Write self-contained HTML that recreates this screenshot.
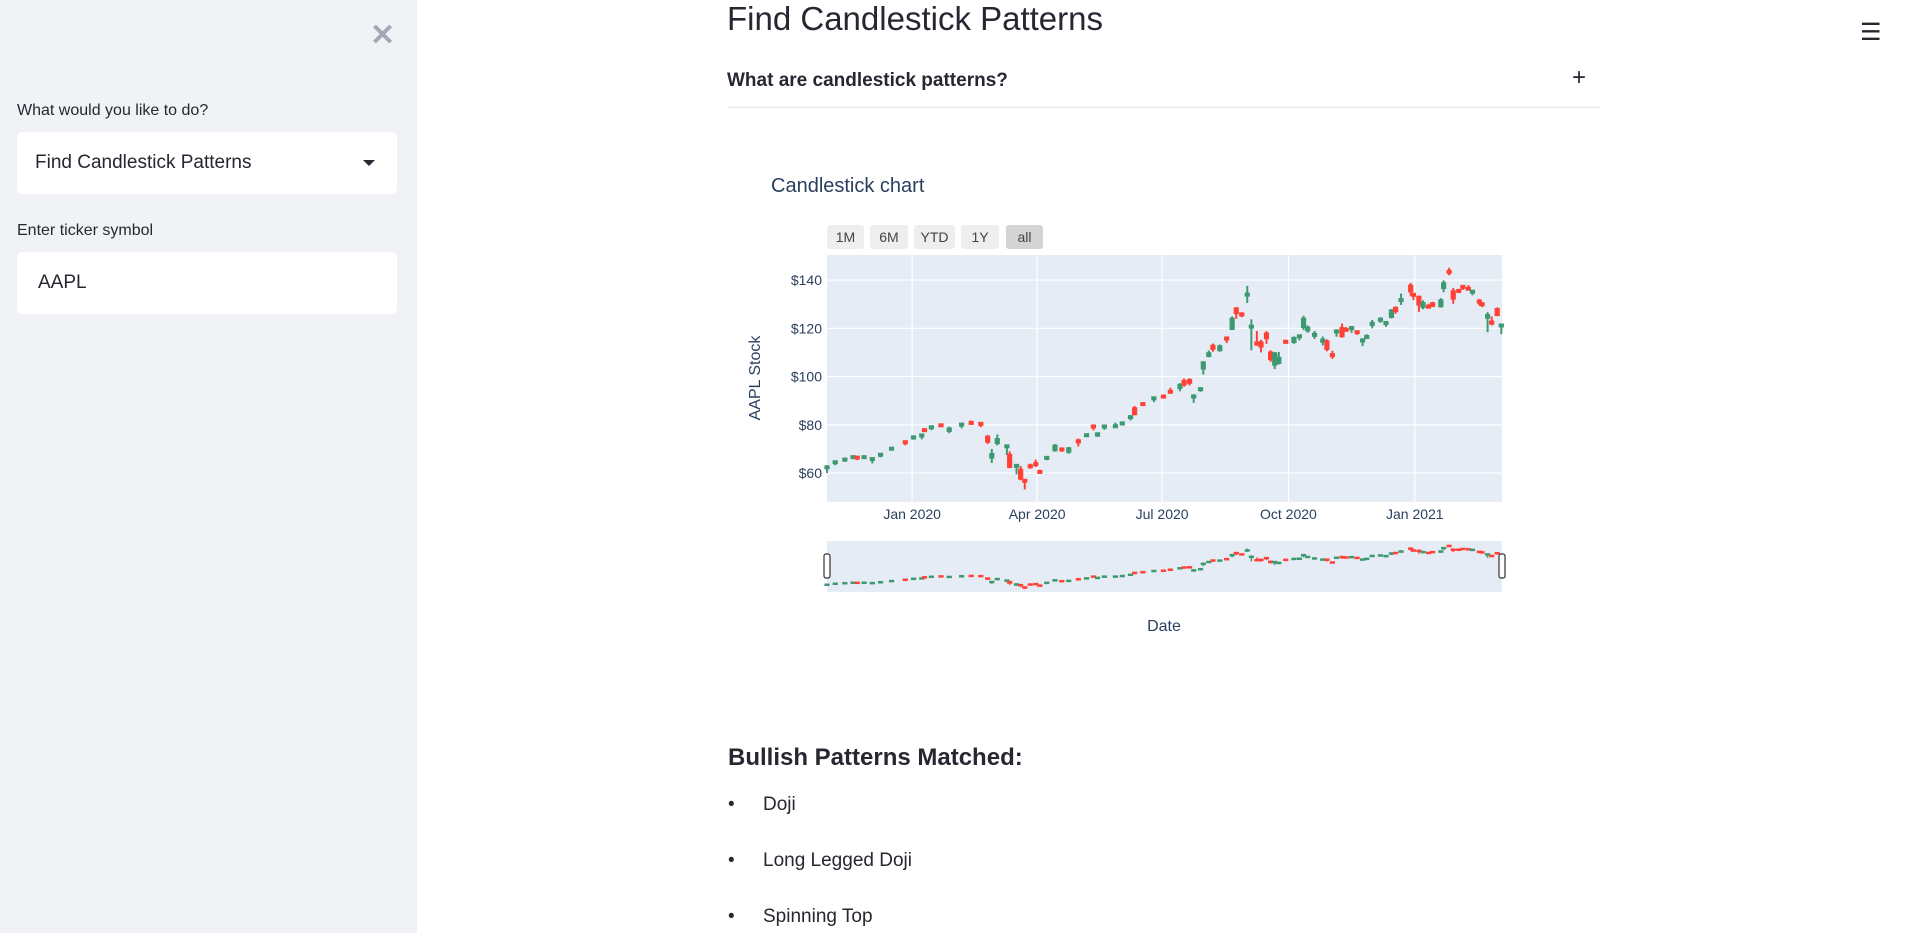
<!DOCTYPE html>
<html><head><meta charset="utf-8"><style>
body{margin:0;width:1906px;height:933px;overflow:hidden;background:#fff;font-family:"Liberation Sans",sans-serif;color:#262730;position:relative}
.abs{position:absolute}
#sidebar{left:0;top:0;width:417px;height:933px;background:#f0f2f6}
.lbl{font-size:16px;color:#262730}
.box{background:#fff;border-radius:5px}
</style></head><body>
<div id="sidebar" class="abs">
  <div class="abs" style="left:370px;top:18px;font-size:30px;color:#a3a8b4;font-weight:bold">✕</div>
  <div class="abs lbl" style="left:17px;top:102px">What would you like to do?</div>
  <div class="abs box" style="left:17px;top:132px;width:380px;height:62px">
    <div class="abs" style="left:18px;top:20px;font-size:19px">Find Candlestick Patterns</div>
    <div class="abs" style="left:346px;top:28px;width:0;height:0;border-left:6px solid transparent;border-right:6px solid transparent;border-top:6px solid #262730"></div>
  </div>
  <div class="abs lbl" style="left:17px;top:222px">Enter ticker symbol</div>
  <div class="abs box" style="left:17px;top:252px;width:380px;height:62px">
    <div class="abs" style="left:21px;top:20px;font-size:19px">AAPL</div>
  </div>
</div>
<div class="abs" style="left:1860px;top:18px;font-size:24px">☰</div>
<div class="abs" style="left:727px;top:0px;font-size:33px">Find Candlestick Patterns</div>
<div class="abs" style="left:727px;top:70px;font-size:19px;font-weight:bold">What are candlestick patterns?</div>
<div class="abs" style="left:1572px;top:64px;font-size:24px">+</div>
<div class="abs" style="left:727px;top:107px;width:873px;height:1px;background:#e6e6ea"></div>

<svg class="abs" style="left:0;top:0" width="1906" height="933" id="chart">
  <text x="771" y="192" font-size="20" fill="#2a3f5f" font-family="Liberation Sans,sans-serif">Candlestick chart</text>
  <g id="buttons"></g>
  <rect x="827" y="255" width="675" height="247" fill="#e5ecf6"/>
  <g id="grid"></g>
  <g id="candles"></g>
  <g id="ticks" font-family="Liberation Sans,sans-serif" font-size="14" fill="#2a3f5f"></g>
  <text x="0" y="0" transform="translate(760,378) rotate(-90)" text-anchor="middle" font-size="16" fill="#2a3f5f" font-family="Liberation Sans,sans-serif">AAPL Stock</text>
  <rect x="827" y="541" width="675" height="51" fill="#e5ecf6"/>
  <g id="mini"></g>
  <rect x="824" y="554" width="6" height="24" rx="2" fill="#fff" stroke="#333" stroke-width="1.2"/>
  <rect x="1499" y="554" width="6" height="24" rx="2" fill="#fff" stroke="#333" stroke-width="1.2"/>
  <text x="1164" y="631" text-anchor="middle" font-size="16" fill="#2a3f5f" font-family="Liberation Sans,sans-serif">Date</text>
</svg>

<div class="abs" style="left:728px;top:744px;font-size:24px;font-weight:bold;color:#262730">Bullish Patterns Matched:</div>
<div class="abs" style="left:728px;top:794px;font-size:19px"><span style="position:absolute;left:0">•</span><span style="position:absolute;left:35px;white-space:nowrap">Doji</span></div>
<div class="abs" style="left:728px;top:850px;font-size:19px"><span style="position:absolute;left:0">•</span><span style="position:absolute;left:35px;white-space:nowrap">Long Legged Doji</span></div>
<div class="abs" style="left:728px;top:906px;font-size:19px"><span style="position:absolute;left:0">•</span><span style="position:absolute;left:35px;white-space:nowrap">Spinning Top</span></div>

<script>
const dates=["2019-10-31","2019-11-06","2019-11-13","2019-11-19","2019-11-22","2019-11-27","2019-12-03","2019-12-09","2019-12-17","2019-12-27","2020-01-02","2020-01-08","2020-01-10","2020-01-15","2020-01-22","2020-01-28","2020-02-06","2020-02-13","2020-02-20","2020-02-25","2020-02-28","2020-03-03","2020-03-10","2020-03-12","2020-03-17","2020-03-20","2020-03-23","2020-03-27","2020-03-31","2020-04-03","2020-04-08","2020-04-14","2020-04-19","2020-04-24","2020-05-01","2020-05-07","2020-05-12","2020-05-15","2020-05-20","2020-05-28","2020-06-02","2020-06-08","2020-06-11","2020-06-17","2020-06-25","2020-07-02","2020-07-07","2020-07-14","2020-07-17","2020-07-21","2020-07-24","2020-07-29","2020-07-31","2020-08-04","2020-08-07","2020-08-12","2020-08-17","2020-08-21","2020-08-24","2020-08-28","2020-09-01","2020-09-04","2020-09-08","2020-09-11","2020-09-15","2020-09-18","2020-09-21","2020-09-24","2020-09-29","2020-10-05","2020-10-09","2020-10-12","2020-10-15","2020-10-20","2020-10-26","2020-10-29","2020-11-02","2020-11-05","2020-11-09","2020-11-12","2020-11-16","2020-11-20","2020-11-24","2020-11-27","2020-12-01","2020-12-07","2020-12-11","2020-12-15","2020-12-18","2020-12-22","2020-12-29","2020-12-31","2021-01-04","2021-01-07","2021-01-11","2021-01-14","2021-01-20","2021-01-22","2021-01-26","2021-01-29","2021-02-02","2021-02-05","2021-02-09","2021-02-12","2021-02-17","2021-02-19","2021-02-23","2021-02-26","2021-03-02","2021-03-05"];
const opens=[61.0,63.5,64.8,66.0,66.6,66.0,64.5,66.9,69.5,73.0,74.0,74.2,78.0,78.0,80.0,77.0,79.0,81.0,80.6,75.5,66.0,72.0,70.0,68.0,61.9,61.8,57.0,63.0,63.9,60.7,65.7,69.0,70.0,68.4,74.0,75.8,79.5,75.1,78.0,79.2,80.6,82.6,87.3,88.8,90.0,91.9,93.9,94.8,98.6,99.0,90.9,93.7,102.9,108.1,113.2,110.5,116.0,119.3,128.7,126.0,132.8,120.1,113.9,114.6,118.3,110.4,104.5,105.2,114.6,113.9,115.3,120.1,118.7,116.2,114.0,115.0,109.1,117.9,120.5,119.6,118.9,118.6,113.9,116.6,121.0,122.3,122.4,124.3,128.9,131.6,138.1,134.1,133.5,128.4,129.2,130.8,128.7,136.3,143.6,135.8,135.7,137.4,136.6,134.4,131.3,130.2,124.0,122.6,128.4,120.98];
const highs=[63.2,64.9,66.0,67.0,66.8,67.0,66.3,68.0,70.6,73.4,75.2,76.0,78.2,79.6,80.2,79.2,80.5,81.8,81.2,75.8,70.0,76.0,71.6,69.0,63.2,62.9,57.1,63.9,65.6,61.4,66.8,72.0,70.4,70.8,74.3,76.3,79.9,76.9,79.6,80.9,81.0,83.4,87.8,88.9,91.3,92.6,95.4,97.3,99.2,99.3,92.6,95.2,106.4,110.8,113.7,113.3,116.1,124.9,128.8,126.4,137.6,123.7,118.9,115.2,118.8,110.9,110.2,110.2,115.3,116.6,117.0,125.2,121.2,118.9,116.6,115.4,110.7,119.6,122.0,120.5,121.0,118.8,115.9,117.5,123.5,124.6,122.8,127.9,129.1,134.4,138.8,134.7,133.6,131.6,130.2,131.0,132.5,139.9,145.1,136.7,136.3,137.4,137.9,135.5,132.2,130.7,126.7,124.9,128.7,121.9];
const lows=[60.0,63.2,64.6,65.8,65.4,65.9,64.0,66.5,69.3,71.5,73.8,74.0,77.0,77.8,79.2,76.5,78.5,80.0,79.0,72.0,64.2,71.5,67.5,62.0,59.5,57.0,53.2,61.8,62.5,59.7,65.3,68.9,68.8,68.0,71.0,75.4,77.7,75.0,77.9,79.0,79.8,81.8,83.9,87.8,89.4,90.9,92.9,93.9,95.8,96.3,89.1,93.7,100.8,108.0,110.3,110.3,113.9,119.3,123.9,124.6,130.5,110.9,112.7,110.0,113.6,106.1,103.1,105.0,113.6,113.6,115.0,119.3,118.2,115.6,112.9,110.5,107.3,116.5,116.1,118.6,118.1,117.3,112.6,116.2,120.0,122.3,120.6,124.1,126.0,129.7,133.5,131.7,126.8,127.9,128.5,128.8,128.6,135.0,142.0,130.2,134.6,135.9,135.9,133.7,129.5,128.8,118.4,121.2,125.0,117.6];
const closes=[62.6,64.7,65.8,66.8,65.6,66.8,66.0,67.8,70.3,72.6,75.0,75.8,77.4,79.2,79.4,78.9,80.3,80.5,79.5,72.6,68.3,74.5,71.3,62.1,63.2,57.3,56.1,61.9,63.6,60.3,66.5,71.8,69.2,70.7,72.3,75.9,77.9,76.9,79.5,79.6,80.8,83.4,84.0,87.9,91.2,91.0,93.2,97.0,96.3,97.0,92.6,95.0,106.3,110.1,111.1,113.0,114.6,124.4,125.9,124.8,134.2,120.9,112.8,112.0,115.5,106.8,110.0,108.2,114.1,116.5,116.9,124.4,120.7,117.5,115.1,111.0,108.8,118.9,116.3,119.2,120.3,117.3,115.2,116.6,122.7,123.8,122.4,127.9,126.7,131.9,134.9,132.7,129.4,130.9,128.8,128.9,132.0,139.1,143.2,131.9,134.9,136.8,136.0,135.4,130.8,129.9,125.9,121.3,125.1,121.4];
const yTicks=[60,80,100,120,140];
const xTickDates=["2020-01-01","2020-04-01","2020-07-01","2020-10-01","2021-01-01"];
const xTickLabels=["Jan 2020","Apr 2020","Jul 2020","Oct 2020","Jan 2021"];
const rangeButtons=["1M","6M","YTD","1Y","all"];

const NS="http://www.w3.org/2000/svg";
const X0=827,X1=1502,D0=Date.UTC(2019,9,31),D1=Date.UTC(2021,2,5,12);
function dayMs(s){const p=s.split("-");return Date.UTC(+p[0],+p[1]-1,+p[2]);}
function xs(s){return X0+(dayMs(s)-D0)/(D1-D0)*(X1-X0);}
const YMIN=48,YMAX=150.4,PT=255,PB=502;
function ys(v){return PB-(v-YMIN)/(YMAX-YMIN)*(PB-PT);}
const allLo=Math.min(...lows),allHi=Math.max(...highs);
function ysm(v){return 589-(v-allLo)/(allHi-allLo)*44;}
function mk(tag,attrs,parent){const e=document.createElementNS(NS,tag);for(const k in attrs)e.setAttribute(k,attrs[k]);parent.appendChild(e);return e;}

const btnW=[37,38,41,38,37],btnX=[827,870,914,961,1006];
const bg=document.getElementById("buttons");
rangeButtons.forEach((b,i)=>{
  const r=mk("rect",{x:btnX[i],y:225,width:btnW[i],height:24,rx:3,fill:i===4?"#d4d4d4":"#eeeeee"},bg);
  
  
  const t=mk("text",{x:btnX[i]+btnW[i]/2,y:242,"text-anchor":"middle","font-size":14,fill:"#444","font-family":"Liberation Sans,sans-serif"},bg);
  t.textContent=b;
  
  
});

const grid=document.getElementById("grid"),ticks=document.getElementById("ticks");
yTicks.forEach(v=>{
  const l=mk("line",{x1:X0,x2:X1,y1:ys(v),y2:ys(v),stroke:"#fff","stroke-width":1.2},grid);
  
  
  const t=mk("text",{x:822,y:ys(v)+5,"text-anchor":"end"},ticks);
  t.textContent="$"+v;
  
  
});
xTickDates.forEach((d,i)=>{
  const x=xs(d);
  const l=mk("line",{x1:x,x2:x,y1:PT,y2:PB,stroke:"#fff","stroke-width":1.2},grid);
  
  
  const t=mk("text",{x:x,y:519,"text-anchor":"middle"},ticks);
  t.textContent=xTickLabels[i];
  
  
});

const cg=document.getElementById("candles"),mg=document.getElementById("mini");
dates.forEach((d,i)=>{
  const x=xs(d),up=closes[i]>=opens[i],col=up?"#3D9970":"#FF4136";
  const g=mk("g",{},cg);
  
  
  mk("line",{x1:x,x2:x,y1:ys(highs[i]),y2:ys(lows[i]),stroke:col,"stroke-width":2},g);
  const t=Math.min(ys(opens[i]),ys(closes[i])),h=Math.max(4,Math.abs(ys(opens[i])-ys(closes[i])));
  mk("rect",{x:x-2.6,y:t-(h===4?1.5:0),width:5.2,height:h,fill:col},g);
  const m=mk("g",{},mg);
  
  
  mk("line",{x1:x,x2:x,y1:ysm(highs[i]),y2:ysm(lows[i]),stroke:col,"stroke-width":1.5},m);
  const mt=Math.min(ysm(opens[i]),ysm(closes[i])),mh=Math.max(2.5,Math.abs(ysm(opens[i])-ysm(closes[i])));
  mk("rect",{x:x-2.6,y:mt-1,width:5.2,height:mh,fill:col},m);
});
</script>
</body></html>
